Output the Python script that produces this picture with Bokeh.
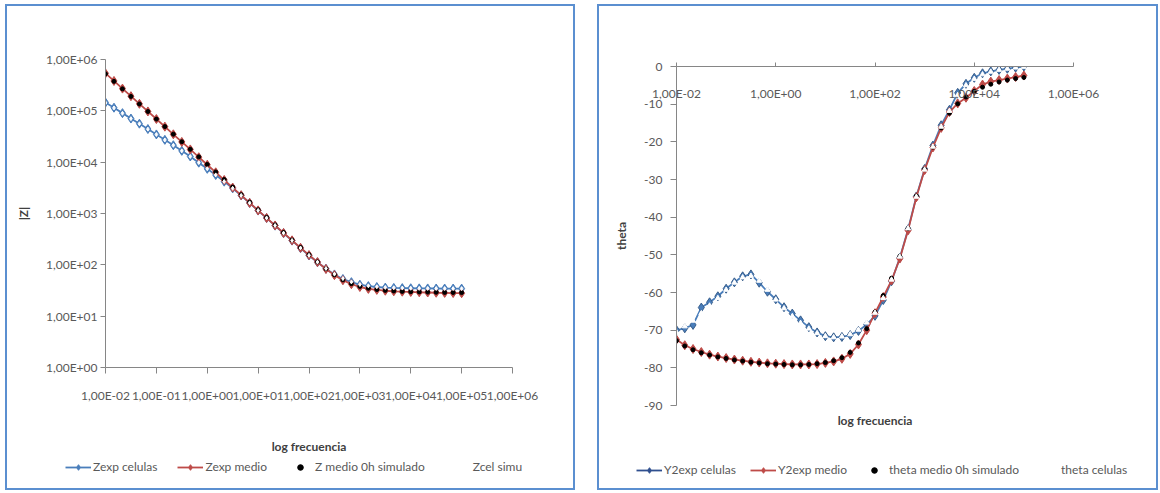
from bokeh.plotting import figure
from bokeh.models import (Range1d, FixedTicker, Legend, LegendItem, LogAxis,
                          InlineStyleSheet)
from bokeh.layouts import row, column
from bokeh.embed import file_html
from bokeh.resources import INLINE

# Frequency sweep (Hz), 6 points per decade
freq = [0.01, 0.01468, 0.02154, 0.03162, 0.04642, 0.06813,
        0.1, 0.1468, 0.2154, 0.3162, 0.4642, 0.6813,
        1.0, 1.468, 2.154, 3.162, 4.642, 6.813,
        10.0, 14.68, 21.54, 31.62, 46.42, 68.13,
        100.0, 146.8, 215.4, 316.2, 464.2, 681.3,
        1000.0, 1468.0, 2154.0, 3162.0, 4642.0, 6813.0,
        10000.0, 14680.0, 21540.0, 31620.0, 46420.0, 68130.0,
        100000.0]

# |Z| (ohm)
z_celulas = [145000, 115000, 90200, 70800, 56200, 44200, 34700, 27200, 21400, 16600, 12900, 9770,
             7410, 5620, 4170, 3090, 2240, 1600, 1140, 815, 580, 413, 296, 212, 152, 112, 84, 65,
             53, 46, 41, 38.5, 37, 36, 35.5, 35.2, 35.0, 34.8, 34.7, 34.6, 34.5, 34.5, 34.4]
z_medio = [537000, 382000, 271000, 193000, 137000, 97300, 69200, 49200, 34900, 24800, 17700, 12500,
           8910, 6340, 4500, 3200, 2280, 1610, 1150, 820, 585, 418, 300, 215, 155, 113, 83, 63,
           50, 42, 37, 34, 32.5, 31.3, 30.5, 30.0, 29.6, 29.2, 28.9, 28.6, 28.4, 28.2, 28.0]
z_medio_sim = [525000, 375000, 268000, 191000, 136000, 97000, 69000, 49300, 35100, 25000, 17800, 12700,
               9050, 6450, 4600, 3280, 2330, 1660, 1180, 840, 598, 426, 304, 218, 157, 114, 84, 64,
               51, 43, 38, 35, 33, 31.8, 31.0, 30.4, 30.0, 29.7, 29.4, 29.2, 29.0, 28.9, 28.8]
z_cel_sim = [143000, 114000, 89500, 70500, 56000, 44000, 34600, 27100, 21300, 16600, 12900, 9800,
             7450, 5650, 4200, 3100, 2250, 1610, 1150, 820, 583, 415, 298, 213, 153, 113, 85, 66,
             54, 46.5, 41.5, 39, 37.4, 36.3, 35.7, 35.3, 35.0, 34.8, 34.7, 34.6, 34.5, 34.4, 34.4]

# Phase angle (degrees)
theta_y2_celulas = [-70.0, -69.5, -68.6, -64.0, -62.6, -61.0, -59.0, -57.3, -55.7, -55.2, -57.4, -59.8,
                    -61.8, -63.9, -65.6, -67.4, -69.2, -70.6, -71.6, -71.9, -71.8, -71.3, -70.2, -68.5,
                    -66.2, -62.0, -57.0, -50.8, -43.2, -34.5, -27.2, -21.0, -15.6, -11.5, -7.0, -4.6,
                    -3.0, -1.8, -1.3, -0.9, -0.6, -0.3, 0.0]
theta_y2_medio = [-72.5, -74.0, -75.0, -75.8, -76.5, -77.0, -77.4, -77.8, -78.1, -78.4, -78.6, -78.8,
                  -78.9, -79.0, -79.1, -79.1, -79.1, -79.0, -78.7, -78.3, -77.6, -76.3, -73.8, -70.0,
                  -65.5, -61.2, -56.8, -51.0, -43.5, -34.7, -27.5, -21.5, -16.3, -12.1, -9.8, -8.3,
                  -6.5, -4.8, -4.0, -3.6, -3.2, -2.8, -2.4]
theta_medio_sim = [-72.8, -74.2, -75.2, -76.0, -76.6, -77.1, -77.5, -77.9, -78.2, -78.5, -78.7, -78.9,
                   -79.0, -79.1, -79.2, -79.2, -79.1, -78.9, -78.6, -78.1, -77.3, -75.9, -73.4, -69.6,
                   -65.2, -60.8, -56.2, -50.4, -43.0, -34.4, -27.3, -21.4, -16.3, -12.4, -9.9, -8.1,
                   -6.6, -5.5, -4.7, -4.1, -3.6, -3.2, -2.9]
theta_celulas_sim = [-70.5, -69.0, -67.5, -65.5, -63.5, -61.5, -59.3, -57.4, -56.0, -55.6, -56.9, -59.3,
                     -61.9, -64.2, -66.3, -68.1, -69.6, -70.8, -71.6, -71.9, -71.7, -71.1, -69.9, -68.0,
                     -65.4, -61.5, -56.6, -50.5, -43.0, -34.6, -27.4, -21.3, -16.0, -11.8, -7.6, -5.0,
                     -3.3, -2.1, -1.4, -0.9, -0.6, -0.3, -0.1]

# Axis ticks and labels
freq_ticks = [1e-2, 1e-1, 1e0, 1e1, 1e2, 1e3, 1e4, 1e5, 1e6]
freq_tick_labels = ["1,00E-02", "1,00E-01", "1,00E+00", "1,00E+01", "1,00E+02",
                    "1,00E+03", "1,00E+04", "1,00E+05", "1,00E+06"]
freq_ticks_phase = [1e-2, 1e0, 1e2, 1e4, 1e6]
freq_tick_labels_phase = ["1,00E-02", "1,00E+00", "1,00E+02", "1,00E+04", "1,00E+06"]
z_ticks = [1e0, 1e1, 1e2, 1e3, 1e4, 1e5, 1e6]
z_tick_labels = ["1,00E+00", "1,00E+01", "1,00E+02", "1,00E+03", "1,00E+04", "1,00E+05", "1,00E+06"]
theta_ticks = [0, -10, -20, -30, -40, -50, -60, -70, -80, -90]
theta_tick_labels = ["0", "-10", "-20", "-30", "-40", "-50", "-60", "-70", "-80", "-90"]

BLUE = "#4a7ebb"
NAVY = "#2f4f8f"
RED = "#be4b48"
AXIS = "#868686"
TICK_TXT = "#595959"
TITLE_TXT = "#404040"
FONT = "Lato"
NAN = float("nan")

CHART_H = 452
KEY_H = 34

# Blue frame drawn over each chart panel
PANEL_CSS = InlineStyleSheet(css="""
:host { position: relative; }
:host::after {
  content: "";
  position: absolute;
  left: 0; top: 0; right: 0; bottom: 0;
  border: 2px solid #5b8fd0;
  pointer-events: none;
  z-index: 100;
}
""")


def style_axis(ax):
    ax.axis_line_color = AXIS
    ax.major_tick_line_color = AXIS
    ax.minor_tick_line_color = None
    ax.major_label_text_font = FONT
    ax.major_label_text_font_size = "12px"
    ax.major_label_text_color = TICK_TXT
    ax.axis_label_text_font = FONT
    ax.axis_label_text_font_size = "12px"
    ax.axis_label_text_font_style = "bold"
    ax.axis_label_text_color = TITLE_TXT


def legend_strip(width, loc, gap, entries):
    """Horizontal key drawn in its own strip under a chart."""
    q = figure(width=width, height=KEY_H, x_range=Range1d(0, 1), y_range=Range1d(0, 1),
               x_axis_location=None, y_axis_location=None,
               output_backend="svg", toolbar_location=None,
               min_border_left=0, min_border_right=0, min_border_top=0, min_border_bottom=0)
    q.grid.visible = False
    q.outline_line_color = None
    items = []
    for label, color, marker, msize, with_line in entries:
        rs = []
        if with_line:
            rs.append(q.line([NAN], [NAN], line_color=color, line_width=1.8))
        rs.append(q.scatter([NAN], [NAN], marker=marker, size=msize,
                            fill_color=color, line_color=color))
        items.append(LegendItem(label=label, renderers=rs))
    q.add_layout(Legend(items=items, orientation="horizontal", location=loc,
                        glyph_width=26, glyph_height=14, label_height=14, label_standoff=2,
                        spacing=gap, padding=0, margin=0, border_line_color=None,
                        background_fill_alpha=0, label_text_font=FONT,
                        label_text_font_size="12px", label_text_color=TICK_TXT))
    return q


# ---------------- |Z| vs frequency ----------------
p1 = figure(width=570, height=CHART_H, x_axis_type="log", y_axis_type="log",
            x_range=Range1d(1e-2, 1e6), y_range=Range1d(1, 1e6),
            output_backend="svg", toolbar_location=None,
            min_border_left=100, min_border_right=63, min_border_top=55, min_border_bottom=89)
p1.grid.visible = False
p1.outline_line_color = None

xa = p1.xaxis[0]
style_axis(xa)
xa.ticker = FixedTicker(ticks=freq_ticks)
xa.major_label_overrides = dict(zip(freq_ticks, freq_tick_labels))
xa.major_tick_out = 6
xa.major_tick_in = 0
xa.major_label_standoff = 14
xa.axis_label = "log frecuencia"
xa.axis_label_standoff = 33

ya = p1.yaxis[0]
style_axis(ya)
ya.ticker = FixedTicker(ticks=z_ticks)
ya.major_label_overrides = dict(zip(z_ticks, z_tick_labels))
ya.major_tick_out = 5
ya.major_tick_in = 0
ya.major_label_standoff = 3
ya.axis_label = "|Z|"
ya.axis_label_standoff = 12

p1.line(freq, z_celulas, line_color=BLUE, line_width=1.8)
p1.scatter(freq, z_celulas, marker="diamond", size=9, fill_color=BLUE, line_color=BLUE)
p1.line(freq, z_medio, line_color=RED, line_width=1.8)
p1.scatter(freq, z_medio, marker="diamond", size=9, fill_color=RED, line_color=RED)
p1.scatter(freq, z_medio_sim, marker="circle", size=4, fill_color="black", line_color="black")
p1.scatter(freq, z_cel_sim, marker="diamond", size=4, fill_color="white", line_color="white")

k1 = legend_strip(570, (60, 16), 20, [
    ("Zexp celulas", BLUE, "diamond", 7, True),
    ("Zexp medio", RED, "diamond", 7, True),
    ("Z medio 0h simulado", "black", "circle", 4, False),
    ("Zcel simu", "white", "diamond", 4, False),
])

panel1 = column(p1, row(k1))
panel1.margin = (4, 0, 0, 5)
panel1.stylesheets = [PANEL_CSS]

# ---------------- theta vs frequency ----------------
p2 = figure(width=561, height=CHART_H, x_axis_type="log", x_axis_location="above",
            x_range=Range1d(1e-2, 1e6), y_range=Range1d(-90, 0),
            output_backend="svg", toolbar_location=None,
            min_border_left=79, min_border_right=85, min_border_top=62, min_border_bottom=51)
p2.grid.visible = False
p2.outline_line_color = None

# frequency axis runs along theta = 0, labels hang below the line
xb = p2.xaxis[0]
style_axis(xb)
xb.ticker = FixedTicker(ticks=freq_ticks_phase)
xb.major_label_overrides = dict(zip(freq_ticks_phase, freq_tick_labels_phase))
xb.major_tick_out = 4
xb.major_tick_in = 0
xb.major_label_standoff = -38

# title-only axis under the plot area
xt = LogAxis(ticker=FixedTicker(ticks=[]), axis_label="log frecuencia")
style_axis(xt)
xt.axis_line_color = None
xt.major_tick_out = 0
xt.major_label_standoff = 0
xt.axis_label_standoff = 7
p2.add_layout(xt, "below")

yb = p2.yaxis[0]
style_axis(yb)
yb.ticker = FixedTicker(ticks=theta_ticks)
yb.major_label_overrides = dict(zip(theta_ticks, theta_tick_labels))
yb.major_tick_out = 6
yb.major_tick_in = 0
yb.major_label_standoff = 8
yb.axis_label = "theta"
yb.axis_label_standoff = 12

p2.line(freq, theta_y2_celulas, line_color=BLUE, line_width=1.8)
p2.scatter(freq, theta_y2_celulas, marker="diamond", size=9, fill_color=BLUE, line_color="#385d8a")
p2.line(freq, theta_y2_medio, line_color=RED, line_width=1.8)
p2.scatter(freq, theta_y2_medio, marker="diamond", size=9, fill_color=RED, line_color=RED)
p2.scatter(freq, theta_medio_sim, marker="circle", size=4, fill_color="black", line_color="black")
p2.scatter(freq, theta_celulas_sim, marker="triangle", size=5, fill_color="white", line_color="white")

k2 = legend_strip(561, (39, 13), 14, [
    ("Y2exp celulas", NAVY, "diamond", 7, True),
    ("Y2exp medio", RED, "diamond", 7, True),
    ("theta medio 0h simulado", "black", "circle", 4, False),
    ("theta celulas", "white", "triangle", 4, False),
])

panel2 = column(p2, row(k2))
panel2.margin = (4, 0, 0, 22)
panel2.stylesheets = [PANEL_CSS]

layout = row(panel1, panel2)
open("out.html", "w").write(file_html(layout, INLINE))
